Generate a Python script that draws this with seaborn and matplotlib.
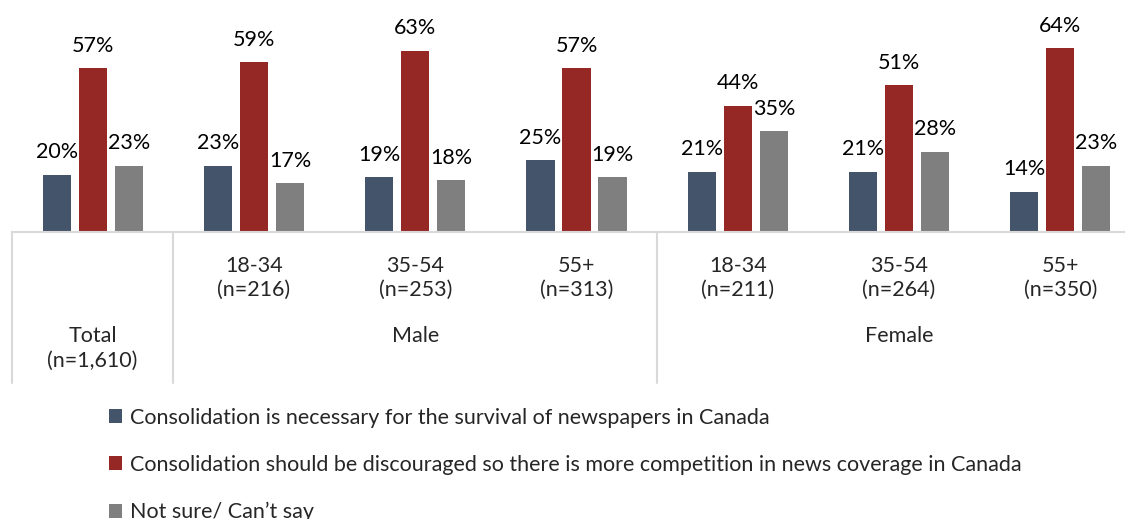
import matplotlib
matplotlib.use("Agg")
import matplotlib.pyplot as plt
import matplotlib.transforms as mtransforms
from matplotlib.patches import Patch
import pandas as pd
import seaborn as sns

# Survey results by demographic
categories = ["Total", "M 18-34", "M 35-54", "M 55+", "F 18-34", "F 35-54", "F 55+"]
tick_labels = ["", "18-34\n(n=216)", "35-54\n(n=253)", "55+\n(n=313)",
               "18-34\n(n=211)", "35-54\n(n=264)", "55+\n(n=350)"]
series = [
    "Consolidation is necessary for the survival of newspapers in Canada",
    "Consolidation should be discouraged so there is more competition in news coverage in Canada",
    "Not sure/ Can\u2019t say",
]
necessary = [20, 23, 19, 25, 21, 21, 14]
discouraged = [57, 59, 63, 57, 44, 51, 64]
not_sure = [23, 17, 18, 19, 35, 28, 23]
colors = ["#44546A", "#952724", "#7F7F7F"]

df = pd.DataFrame({
    "group": categories * 3,
    "series": [series[0]] * 7 + [series[1]] * 7 + [series[2]] * 7,
    "value": necessary + discouraged + not_sure,
})

sns.set_theme(style="white")
plt.rcParams["font.family"] = ["Lato", "DejaVu Sans"]
FS = 15.5

W, H = 1125, 519
fig = plt.figure(figsize=(W / 100, H / 100), dpi=100)
base_y = 232
ax = fig.add_axes([12 / W, (H - base_y) / H, 1129 / W, base_y / H])

sns.barplot(data=df, x="group", y="value", hue="series", order=categories,
            hue_order=series, palette=colors, saturation=1, width=0.67,
            gap=0.22, linewidth=0, legend=False, ax=ax)

for cont in ax.containers:
    ax.bar_label(cont, fmt="%d%%", padding=9, fontsize=FS, color="#000000")

ax.set_xlim(-0.5, 6.5)
ax.set_ylim(0, base_y / 2.875)
ax.set_xlabel("")
ax.set_ylabel("")
ax.set_yticks([])
ax.set_xticks(range(7))
ax.set_xticklabels(tick_labels, fontsize=FS, linespacing=1.22)
ax.tick_params(axis="x", length=0, pad=17.5)
for side in ["top", "left", "right"]:
    ax.spines[side].set_visible(False)
ax.spines["bottom"].set_color("#D9D9D9")
ax.spines["bottom"].set_linewidth(1.5)

# Group separators and group labels below the axis
blend = mtransforms.blended_transform_factory(ax.transData, fig.transFigure)
y_top = (H - base_y) / H
y_bot = (H - 383) / H
for xs in [-0.5, 0.5, 3.5, 6.5]:
    ax.plot([xs, xs], [y_top, y_bot], transform=blend, color="#D9D9D9",
            lw=1.5, clip_on=False)

ax.text(0, (H - 326) / H, "Total\n(n=1,610)", transform=blend, ha="center",
        va="top", fontsize=FS, linespacing=1.31)
ax.text(2, (H - 326) / H, "Male", transform=blend, ha="center", va="top",
        fontsize=FS)
ax.text(5, (H - 326) / H, "Female", transform=blend, ha="center", va="top",
        fontsize=FS)

handles = [Patch(facecolor=c, edgecolor="none") for c in colors]
fig.legend(handles, series, loc="upper left",
           bbox_to_anchor=(109 / W, (H - 408) / H), frameon=False,
           fontsize=FS, handlelength=0.62, handleheight=0.62,
           handletextpad=0.35, labelspacing=1.25, borderpad=0,
           borderaxespad=0)

fig.savefig("out.png", dpi=100)
